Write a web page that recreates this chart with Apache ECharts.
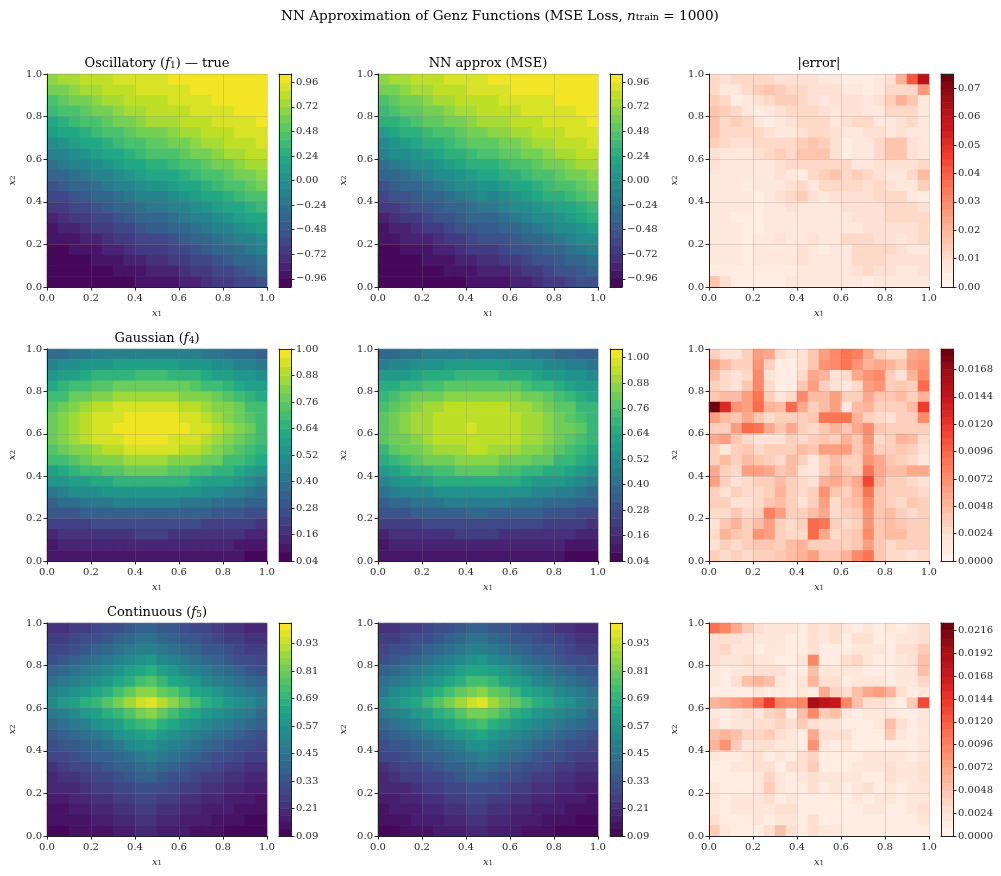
<!DOCTYPE html>
<html>
<head>
<meta charset="utf-8">
<title>Genz</title>
<script src="https://cdn.jsdelivr.net/npm/echarts@6/dist/echarts.min.js"></script>
<style>html,body{margin:0;background:#fff}#main{width:1001px;height:876px}</style>
</head>
<body>
<div id="main"></div>
<script>
var oscTrue=[
[.68,.73,.77,.81,.84,.87,.89,.91,.93,.95,.95,.97,.98,.99,1,1,1,.99,.98,.96],
[.58,.63,.68,.73,.77,.81,.84,.87,.89,.91,.91,.93,.95,.97,.98,.99,1,1,1,.99],
[.47,.53,.58,.63,.68,.73,.77,.81,.84,.87,.87,.89,.91,.93,.95,.97,.98,.99,1,1],
[.35,.42,.47,.53,.58,.63,.68,.73,.77,.81,.81,.84,.87,.89,.91,.93,.95,.97,.98,.99],
[.23,.29,.35,.42,.47,.53,.58,.63,.68,.73,.73,.77,.81,.84,.87,.89,.91,.93,.95,.97],
[.10,.17,.23,.29,.35,.42,.47,.53,.58,.63,.63,.68,.73,.77,.81,.84,.87,.89,.91,.93],
[-.03,.04,.10,.17,.23,.29,.35,.42,.47,.53,.53,.58,.63,.68,.73,.77,.81,.84,.87,.89],
[-.15,-.09,-.03,.04,.10,.17,.23,.29,.35,.42,.42,.47,.53,.58,.63,.68,.73,.77,.81,.84],
[-.28,-.22,-.15,-.09,-.03,.04,.10,.17,.23,.29,.29,.35,.42,.47,.53,.58,.63,.68,.73,.77],
[-.40,-.34,-.28,-.22,-.15,-.09,-.03,.04,.10,.17,.17,.23,.29,.35,.42,.47,.53,.58,.63,.68],
[-.51,-.45,-.40,-.34,-.28,-.22,-.15,-.09,-.03,.04,.04,.10,.17,.23,.29,.35,.42,.47,.53,.58],
[-.62,-.57,-.51,-.45,-.40,-.34,-.28,-.22,-.15,-.09,-.09,-.03,.04,.10,.17,.23,.29,.35,.42,.47],
[-.72,-.67,-.62,-.57,-.51,-.45,-.40,-.34,-.28,-.22,-.22,-.15,-.09,-.03,.04,.10,.17,.23,.29,.35],
[-.81,-.77,-.72,-.67,-.62,-.57,-.51,-.45,-.40,-.34,-.34,-.28,-.22,-.15,-.09,-.03,.04,.10,.17,.23],
[-.89,-.85,-.81,-.77,-.72,-.67,-.62,-.57,-.51,-.45,-.45,-.40,-.34,-.28,-.22,-.15,-.09,-.03,.04,.10],
[-.95,-.91,-.89,-.85,-.81,-.77,-.72,-.67,-.62,-.57,-.57,-.51,-.45,-.40,-.34,-.28,-.22,-.15,-.09,-.03],
[-.98,-.97,-.95,-.91,-.89,-.85,-.81,-.77,-.72,-.67,-.67,-.62,-.57,-.51,-.45,-.40,-.34,-.28,-.22,-.15],
[-1,-.99,-.98,-.97,-.95,-.91,-.89,-.85,-.81,-.77,-.77,-.72,-.67,-.62,-.57,-.51,-.45,-.40,-.34,-.28],
[-1,-1,-1,-.99,-.98,-.97,-.95,-.91,-.89,-.85,-.85,-.81,-.77,-.72,-.67,-.62,-.57,-.51,-.45,-.40],
[-.98,-.99,-1,-1,-1,-.99,-.98,-.97,-.95,-.91,-.91,-.89,-.85,-.81,-.77,-.72,-.67,-.62,-.57,-.51]];
var oscNN=[
[.66,.72,.76,.81,.84,.87,.90,.92,.94,.95,.96,.97,.98,.99,1,1,1,1,.99,.98],
[.57,.63,.68,.73,.77,.81,.85,.87,.89,.92,.92,.94,.96,.97,.98,.99,1,1,.99,.98],
[.47,.53,.58,.63,.68,.73,.77,.81,.84,.87,.87,.89,.91,.93,.95,.95,.96,.98,.99,1],
[.36,.42,.48,.53,.58,.63,.68,.73,.77,.81,.82,.84,.87,.89,.91,.92,.93,.95,.97,.98],
[.24,.29,.36,.42,.48,.53,.58,.63,.68,.73,.73,.77,.81,.84,.87,.89,.91,.93,.95,.97],
[.11,.17,.24,.30,.36,.42,.47,.53,.58,.63,.64,.68,.73,.77,.81,.84,.87,.89,.91,.93],
[-.02,.04,.11,.17,.24,.30,.36,.42,.48,.53,.53,.58,.63,.68,.73,.77,.81,.84,.87,.88],
[-.14,-.08,-.02,.04,.11,.17,.24,.30,.36,.42,.42,.48,.53,.58,.63,.68,.73,.77,.81,.84],
[-.26,-.21,-.14,-.08,-.02,.05,.11,.17,.24,.29,.30,.36,.42,.47,.53,.58,.63,.68,.73,.76],
[-.39,-.33,-.27,-.21,-.14,-.08,-.02,.05,.11,.17,.17,.24,.30,.35,.42,.47,.53,.58,.63,.68],
[-.50,-.44,-.39,-.33,-.27,-.21,-.14,-.08,-.02,.05,.04,.11,.17,.23,.30,.35,.42,.47,.53,.58],
[-.61,-.56,-.50,-.44,-.39,-.33,-.27,-.21,-.14,-.08,-.09,-.02,.05,.11,.17,.24,.29,.36,.42,.48],
[-.71,-.66,-.61,-.56,-.50,-.44,-.39,-.33,-.27,-.21,-.21,-.14,-.08,-.02,.04,.11,.17,.23,.30,.36],
[-.81,-.76,-.71,-.67,-.61,-.56,-.50,-.44,-.39,-.33,-.33,-.27,-.21,-.14,-.08,-.02,.05,.11,.18,.24],
[-.89,-.85,-.81,-.76,-.71,-.67,-.61,-.56,-.50,-.44,-.44,-.39,-.33,-.27,-.21,-.14,-.08,-.02,.05,.11],
[-.95,-.92,-.88,-.85,-.81,-.76,-.71,-.66,-.61,-.56,-.56,-.50,-.44,-.39,-.33,-.27,-.21,-.14,-.08,-.02],
[-.98,-.97,-.95,-.91,-.89,-.85,-.81,-.76,-.71,-.66,-.66,-.61,-.56,-.50,-.44,-.39,-.33,-.27,-.21,-.14],
[-1,-.99,-.98,-.97,-.95,-.91,-.89,-.85,-.81,-.76,-.76,-.71,-.67,-.61,-.56,-.50,-.44,-.39,-.33,-.27],
[-1,-1,-1,-.99,-.98,-.97,-.95,-.92,-.89,-.85,-.84,-.81,-.76,-.71,-.66,-.61,-.56,-.50,-.44,-.39],
[-.99,-1,-1,-1,-1,-.99,-.98,-.97,-.95,-.92,-.91,-.89,-.84,-.81,-.76,-.71,-.66,-.61,-.56,-.50]];
var oscErr=[ // x 1e-3
[10,8,10,11,12,11,9,8,9,8,7,5,4,4,4,5,8,20,40,62],
[11,5,6,10,13,15,14,12,10,9,9,9,7,5,4,5,10,12,11,26],
[13,10,4,5,9,12,14,14,11,8,7,8,9,8,6,8,14,20,15,6],
[15,13,11,6,3,6,9,11,12,11,8,7,8,8,7,6,10,12,10,5],
[15,12,14,10,6,3,5,8,11,12,11,7,8,10,10,6,5,8,11,7],
[15,12,12,11,11,9,5,5,9,11,12,9,5,6,8,8,7,9,7,5],
[14,11,9,8,10,11,12,10,14,16,13,9,4,5,7,11,17,16,9,5],
[8,7,7,6,8,11,13,12,15,17,15,9,4,6,7,10,17,15,8,7],
[8,7,6,6,6,6,8,10,10,12,12,12,10,7,5,9,9,9,9,12],
[7,6,6,5,5,7,8,5,3,11,14,15,12,14,10,8,6,7,11,18],
[7,7,6,4,5,5,5,9,12,5,10,12,12,12,9,10,9,6,5,14],
[6,6,6,6,4,5,8,12,13,8,7,9,9,8,8,10,12,10,7,4],
[6,6,5,5,4,5,7,9,7,6,6,7,8,8,8,9,11,12,10,9],
[5,5,4,4,4,6,6,5,6,7,6,6,7,8,9,9,10,10,10,12],
[7,6,5,4,4,7,7,6,6,7,6,6,7,7,8,8,8,8,9,12],
[6,7,6,4,5,6,8,7,5,9,5,6,10,11,10,9,8,7,8,10],
[6,7,5,4,5,5,6,7,8,5,3,5,7,10,11,11,10,8,7,7],
[5,6,5,4,5,6,6,6,9,6,5,6,7,10,12,11,9,9,8,9],
[4,4,4,4,4,3,3,4,5,6,6,6,7,9,10,9,8,7,7,9],
[17,9,3,3,3,3,4,6,6,6,6,5,5,5,4,5,5,6,5,5]];
var gaussTrue=[
[.37,.39,.41,.42,.44,.45,.46,.46,.47,.47,.46,.46,.45,.44,.43,.41,.39,.38,.36,.33],
[.45,.48,.50,.52,.53,.55,.56,.57,.57,.57,.57,.56,.55,.54,.52,.51,.48,.46,.44,.41],
[.54,.56,.59,.61,.64,.65,.67,.67,.68,.68,.68,.67,.66,.64,.62,.60,.58,.55,.52,.49],
[.62,.65,.68,.71,.73,.75,.77,.78,.78,.78,.78,.77,.76,.74,.72,.69,.66,.63,.60,.56],
[.69,.72,.76,.79,.82,.84,.85,.87,.87,.87,.87,.86,.84,.83,.80,.77,.74,.70,.67,.63],
[.74,.78,.82,.85,.88,.90,.92,.94,.94,.94,.94,.93,.91,.89,.86,.83,.80,.76,.72,.68],
[.78,.82,.86,.89,.92,.95,.96,.98,.98,.99,.98,.97,.95,.93,.90,.87,.83,.79,.75,.71],
[.79,.83,.87,.90,.93,.96,.98,.99,1,1,.99,.98,.97,.94,.92,.88,.85,.81,.76,.72],
[.77,.81,.85,.89,.92,.94,.96,.97,.98,.98,.98,.96,.95,.93,.90,.87,.83,.79,.75,.70],
[.73,.77,.81,.84,.87,.89,.91,.92,.93,.93,.93,.92,.90,.88,.85,.82,.79,.75,.71,.67],
[.68,.71,.74,.77,.80,.82,.84,.85,.86,.86,.85,.84,.83,.81,.79,.76,.72,.69,.65,.61],
[.60,.63,.66,.69,.71,.73,.75,.76,.76,.76,.76,.75,.74,.72,.70,.67,.65,.62,.58,.55],
[.52,.55,.57,.60,.62,.63,.64,.65,.66,.66,.66,.65,.64,.62,.60,.58,.56,.53,.50,.47],
[.43,.46,.48,.50,.51,.53,.54,.55,.55,.55,.55,.54,.53,.52,.51,.49,.47,.45,.42,.39],
[.35,.37,.39,.40,.41,.43,.44,.44,.45,.45,.44,.44,.43,.42,.41,.39,.38,.36,.34,.32],
[.28,.29,.30,.32,.33,.34,.34,.35,.35,.35,.35,.34,.34,.33,.32,.31,.30,.28,.27,.25],
[.21,.22,.23,.24,.25,.26,.26,.26,.27,.27,.26,.26,.26,.25,.24,.23,.23,.22,.20,.19],
[.15,.16,.17,.18,.18,.19,.19,.19,.20,.20,.20,.19,.19,.18,.18,.17,.17,.16,.15,.14],
[.11,.12,.12,.13,.13,.13,.14,.14,.14,.14,.14,.14,.13,.13,.13,.12,.12,.11,.11,.10],
[.08,.08,.08,.09,.09,.09,.09,.10,.10,.10,.10,.09,.09,.09,.09,.08,.08,.08,.07,.07]];
var gaussNN=[
[.36,.39,.41,.43,.45,.46,.46,.47,.47,.47,.46,.46,.45,.44,.43,.41,.39,.38,.35,.33],
[.46,.48,.51,.53,.54,.55,.56,.57,.57,.57,.57,.56,.55,.54,.52,.50,.48,.46,.44,.41],
[.56,.58,.60,.62,.64,.65,.67,.68,.68,.68,.68,.67,.66,.64,.62,.60,.58,.55,.52,.49],
[.64,.67,.69,.71,.73,.75,.77,.78,.79,.78,.78,.77,.76,.74,.72,.70,.66,.63,.60,.57],
[.71,.74,.77,.80,.83,.84,.86,.87,.87,.87,.87,.86,.85,.83,.81,.77,.74,.70,.67,.63],
[.75,.79,.82,.86,.88,.90,.92,.93,.93,.93,.93,.92,.91,.89,.86,.83,.79,.76,.72,.68],
[.78,.82,.85,.88,.91,.93,.94,.94,.95,.95,.94,.94,.93,.91,.89,.86,.83,.79,.75,.71],
[.78,.82,.85,.88,.91,.93,.94,.95,.97,.96,.95,.94,.93,.91,.90,.87,.84,.80,.76,.71],
[.76,.80,.84,.87,.90,.92,.93,.94,.94,.94,.94,.93,.92,.91,.88,.86,.82,.79,.75,.70],
[.72,.76,.80,.83,.86,.88,.90,.91,.92,.92,.91,.90,.89,.87,.85,.82,.79,.75,.71,.67],
[.67,.70,.73,.77,.80,.82,.84,.85,.85,.85,.85,.84,.83,.81,.79,.76,.72,.69,.65,.61],
[.59,.62,.66,.69,.71,.73,.75,.76,.77,.76,.76,.75,.74,.72,.70,.67,.65,.62,.58,.55],
[.51,.55,.57,.60,.62,.64,.65,.65,.66,.66,.66,.65,.64,.62,.60,.58,.56,.53,.50,.47],
[.43,.46,.48,.50,.51,.53,.54,.55,.55,.55,.55,.54,.53,.52,.51,.49,.47,.45,.42,.39],
[.35,.37,.39,.41,.42,.43,.44,.45,.45,.45,.44,.44,.43,.42,.41,.39,.38,.36,.34,.32],
[.28,.29,.31,.32,.33,.34,.35,.35,.36,.36,.35,.34,.34,.33,.32,.31,.30,.28,.27,.25],
[.21,.22,.23,.24,.25,.26,.26,.27,.27,.27,.26,.26,.26,.25,.25,.23,.23,.22,.20,.19],
[.15,.16,.17,.18,.18,.19,.19,.20,.20,.20,.20,.19,.19,.18,.18,.17,.17,.16,.15,.14],
[.11,.12,.12,.13,.13,.13,.14,.14,.14,.14,.14,.14,.13,.13,.13,.12,.12,.11,.11,.10],
[.08,.08,.09,.09,.09,.09,.10,.10,.10,.10,.10,.09,.09,.09,.09,.08,.08,.07,.07,.07]];
var gaussErr=[ // x 1e-4
[30,18,22,35,60,55,25,15,22,40,60,75,85,80,55,30,25,25,55,60],
[60,45,30,30,70,35,10,8,20,40,70,75,85,70,50,55,50,40,60,70],
[45,25,18,28,75,20,6,8,25,55,50,20,25,55,70,75,35,20,50,75],
[35,28,20,40,75,25,6,10,40,60,30,20,12,25,60,70,30,40,35,90],
[40,45,45,60,85,30,12,25,75,45,45,65,30,30,55,40,40,45,30,50],
[180,130,70,65,90,50,45,90,55,35,45,60,15,45,50,30,35,30,45,115],
[65,45,40,55,40,25,30,35,30,40,85,85,85,50,35,25,20,30,30,75],
[30,35,65,90,85,55,40,55,30,25,40,50,40,55,75,40,30,35,30,30],
[55,60,40,25,20,20,20,35,25,30,40,35,50,40,70,25,30,50,45,25],
[30,15,30,40,25,35,35,35,45,40,65,60,60,40,65,30,30,40,30,20],
[30,45,35,45,40,30,25,45,30,15,35,45,35,30,70,55,40,30,25,15],
[55,30,25,60,65,55,40,45,20,12,35,50,40,35,85,55,45,45,55,55],
[65,30,20,25,30,35,45,35,25,20,50,55,45,55,110,50,35,30,25,20],
[30,20,30,25,25,30,50,35,25,30,70,40,35,50,85,40,35,30,30,25],
[35,30,20,20,25,40,45,30,20,30,65,25,40,45,75,40,35,25,40,35],
[25,25,40,25,35,80,60,35,30,45,55,25,35,40,70,40,45,35,25,30],
[18,40,50,30,45,60,30,25,35,90,85,30,25,35,70,40,45,40,30,30],
[25,50,40,30,70,65,30,25,28,95,55,25,30,40,75,40,45,45,30,30],
[18,30,25,35,40,40,35,45,50,35,30,30,35,40,65,40,25,35,30,35],
[35,25,35,25,30,35,40,45,50,60,40,40,50,75,85,40,25,25,20,25]];
var contTrue=[
[.21,.22,.24,.26,.28,.30,.32,.34,.37,.38,.35,.33,.31,.28,.27,.25,.23,.21,.20,.19],
[.24,.26,.28,.30,.32,.34,.37,.39,.42,.43,.40,.38,.35,.33,.30,.28,.26,.25,.23,.21],
[.27,.29,.32,.34,.37,.39,.42,.45,.48,.50,.46,.43,.40,.38,.35,.33,.30,.28,.26,.24],
[.32,.34,.36,.39,.42,.45,.48,.52,.56,.57,.53,.50,.46,.43,.40,.37,.35,.32,.30,.28],
[.36,.39,.42,.45,.48,.52,.56,.60,.64,.66,.61,.57,.53,.50,.46,.43,.40,.37,.35,.32],
[.42,.45,.48,.52,.55,.59,.64,.68,.73,.75,.70,.65,.61,.57,.53,.49,.46,.43,.40,.37],
[.48,.51,.55,.59,.64,.68,.73,.79,.84,.86,.80,.75,.70,.65,.61,.57,.53,.49,.46,.42],
[.53,.57,.61,.66,.71,.76,.81,.88,.94,.97,.90,.84,.78,.73,.68,.63,.59,.55,.51,.47],
[.46,.50,.53,.57,.62,.66,.71,.76,.82,.84,.78,.73,.68,.64,.59,.55,.52,.48,.45,.41],
[.40,.43,.46,.50,.54,.58,.62,.66,.71,.73,.68,.64,.59,.55,.52,.48,.45,.42,.39,.36],
[.35,.38,.40,.44,.47,.50,.54,.58,.62,.64,.59,.55,.52,.48,.45,.42,.39,.37,.34,.31],
[.31,.33,.35,.38,.41,.44,.47,.51,.54,.56,.52,.48,.45,.42,.39,.36,.34,.32,.30,.27],
[.27,.29,.31,.33,.36,.38,.41,.44,.47,.49,.45,.42,.39,.37,.34,.32,.30,.28,.26,.24],
[.23,.25,.27,.29,.31,.33,.36,.38,.41,.42,.39,.37,.34,.32,.30,.28,.26,.24,.22,.21],
[.20,.22,.23,.25,.27,.29,.31,.33,.36,.37,.34,.32,.30,.28,.26,.24,.22,.21,.20,.18],
[.18,.19,.20,.22,.24,.25,.27,.29,.31,.32,.30,.28,.26,.24,.23,.21,.20,.18,.17,.16],
[.15,.17,.18,.19,.21,.22,.24,.25,.27,.28,.26,.24,.23,.21,.20,.18,.17,.16,.15,.14],
[.13,.14,.15,.17,.18,.19,.21,.22,.24,.24,.23,.21,.20,.18,.17,.16,.15,.14,.13,.12],
[.12,.13,.13,.14,.16,.17,.18,.19,.21,.21,.20,.18,.17,.16,.15,.14,.13,.12,.11,.10],
[.10,.11,.12,.13,.14,.14,.16,.17,.18,.18,.17,.16,.15,.14,.13,.12,.11,.11,.10,.09]];
var contNN=[
[.21,.23,.24,.26,.28,.30,.32,.34,.36,.37,.35,.33,.31,.29,.27,.25,.23,.22,.20,.19],
[.24,.26,.28,.30,.32,.34,.37,.39,.42,.42,.40,.38,.35,.33,.31,.28,.27,.25,.23,.21],
[.28,.30,.32,.35,.37,.39,.42,.45,.48,.49,.46,.43,.40,.38,.35,.33,.30,.28,.26,.24],
[.32,.34,.37,.39,.42,.45,.48,.51,.55,.57,.53,.50,.46,.43,.40,.37,.35,.32,.30,.28],
[.36,.39,.42,.45,.48,.52,.56,.60,.64,.65,.61,.57,.54,.50,.46,.43,.40,.37,.35,.33],
[.42,.45,.48,.52,.56,.59,.64,.68,.72,.74,.70,.65,.61,.57,.53,.49,.46,.43,.40,.37],
[.47,.51,.55,.59,.64,.68,.73,.78,.83,.85,.80,.75,.70,.65,.61,.57,.53,.49,.46,.43],
[.51,.56,.60,.65,.70,.75,.81,.87,.93,.96,.89,.83,.78,.72,.68,.63,.59,.55,.50,.45],
[.46,.49,.53,.57,.61,.66,.71,.75,.81,.83,.78,.73,.68,.63,.59,.55,.52,.48,.45,.41],
[.40,.43,.46,.50,.54,.58,.62,.66,.70,.72,.68,.63,.59,.55,.52,.48,.45,.42,.39,.36],
[.35,.37,.40,.44,.47,.50,.54,.58,.61,.63,.59,.55,.51,.48,.45,.42,.39,.37,.34,.32],
[.31,.33,.35,.38,.41,.44,.47,.50,.54,.55,.52,.48,.45,.42,.39,.36,.34,.32,.30,.28],
[.27,.29,.31,.33,.36,.38,.41,.44,.47,.48,.45,.42,.39,.37,.34,.32,.30,.28,.26,.25],
[.23,.25,.27,.29,.31,.33,.36,.38,.41,.42,.39,.37,.34,.32,.30,.28,.26,.24,.23,.21],
[.20,.22,.24,.25,.27,.29,.31,.33,.36,.36,.34,.32,.30,.28,.26,.24,.22,.21,.20,.18],
[.18,.19,.20,.22,.24,.25,.27,.29,.31,.32,.30,.28,.26,.24,.23,.21,.20,.18,.17,.16],
[.16,.17,.18,.19,.21,.22,.24,.25,.27,.28,.26,.24,.23,.21,.20,.18,.17,.16,.15,.14],
[.14,.15,.16,.17,.18,.19,.21,.22,.24,.24,.23,.21,.20,.18,.17,.16,.15,.14,.13,.12],
[.12,.13,.14,.15,.16,.17,.18,.19,.21,.21,.20,.18,.17,.16,.15,.14,.13,.12,.11,.10],
[.10,.11,.12,.13,.14,.15,.16,.17,.18,.18,.17,.16,.15,.14,.13,.12,.11,.11,.10,.09]];
var contErr=[ // x 1e-4
[110,95,65,45,30,22,22,18,12,30,18,25,18,14,18,15,18,15,20,25],
[25,30,25,18,20,20,18,15,10,25,18,24,15,25,30,15,12,22,20,30],
[30,35,20,18,14,18,18,10,14,30,15,14,14,18,22,16,12,25,28,40],
[25,20,18,25,22,18,15,15,18,90,15,15,25,35,18,15,14,18,25,55],
[20,14,18,18,25,30,30,15,14,55,18,18,20,18,14,14,14,16,20,50],
[18,14,30,55,60,50,22,14,16,60,25,25,15,16,16,16,12,16,20,35],
[14,14,12,14,16,14,14,10,20,14,70,35,30,50,65,75,60,25,14,18],
[60,70,75,85,110,140,95,85,90,195,180,170,90,55,30,30,20,15,40,130],
[18,14,20,25,16,35,45,14,55,90,40,55,18,14,18,18,18,14,14,20],
[25,14,18,22,30,30,35,25,45,25,18,16,14,12,12,16,50,30,14,18],
[50,60,50,35,35,40,30,18,14,65,25,25,30,15,14,14,45,20,14,18],
[60,80,45,20,30,30,18,22,14,85,18,14,16,14,14,14,14,14,12,18],
[16,14,14,16,25,14,18,14,25,35,14,14,14,14,20,16,16,18,14,20],
[14,14,18,20,30,25,14,30,30,40,14,14,14,18,18,16,24,22,18,25],
[14,14,14,14,22,35,18,14,20,30,16,18,22,20,14,14,24,22,18,25],
[22,14,14,14,22,40,20,14,14,30,14,16,14,20,25,14,22,14,18,22],
[22,14,18,18,20,25,15,20,14,14,14,14,14,18,14,18,18,14,18,18],
[18,14,18,22,22,22,25,25,14,14,14,14,14,14,16,18,14,14,18,30],
[30,14,14,14,16,14,22,16,14,25,14,14,14,14,14,14,14,14,14,20],
[40,16,10,10,10,30,55,30,12,28,18,18,14,14,12,12,12,12,14,14]];

var oscTicks=[-.96,-.72,-.48,-.24,0,.24,.48,.72,.96];
var gaussTicks=[.04,.16,.28,.40,.52,.64,.76,.88,1];
var contTicks=[.09,.21,.33,.45,.57,.69,.81,.93];
var oscErrTicks=[0,.01,.02,.03,.04,.05,.06,.07];
var gaussErrTicks=[0,.0024,.0048,.0072,.0096,.012,.0144,.0168];
var contErrTicks=[0,.0024,.0048,.0072,.0096,.012,.0144,.0168,.0192,.0216];

var viridis=['#440154','#482475','#414487','#355f8d','#2a788e','#21918c','#22a884','#44bf70','#7ad151','#bddf26','#fde725'];
var reds=['#fff5f0','#fee0d2','#fcbba1','#fc9272','#fb6a4a','#ef3b2c','#cb181d','#a50f15','#67000d'];

var FONT='DejaVu Serif';
var panels=[
 {grid:oscTrue,scale:1,cmap:viridis,lev:[-1.04,.08,26],ticks:oscTicks,dec:2,title:'Oscillatory ({m|f}{s|1}) — true'},
 {grid:oscNN,scale:1,cmap:viridis,lev:[-1.04,.08,26],ticks:oscTicks,dec:2,title:'NN approx (MSE)'},
 {grid:oscErr,scale:1e-3,cmap:reds,lev:[0,.0025,30],ticks:oscErrTicks,dec:2,title:'|error|'},
 {grid:gaussTrue,scale:1,cmap:viridis,lev:[.04,.04,24],ticks:gaussTicks,dec:2,title:'Gaussian ({m|f}{s|4})'},
 {grid:gaussNN,scale:1,cmap:viridis,lev:[.04,.04,25],ticks:gaussTicks,dec:2,title:''},
 {grid:gaussErr,scale:1e-4,cmap:reds,lev:[0,.0006,31],ticks:gaussErrTicks,dec:4,title:''},
 {grid:contTrue,scale:1,cmap:viridis,lev:[.09,.03,31],ticks:contTicks,dec:2,title:'Continuous ({m|f}{s|5})'},
 {grid:contNN,scale:1,cmap:viridis,lev:[.09,.03,31],ticks:contTicks,dec:2,title:''},
 {grid:contErr,scale:1e-4,cmap:reds,lev:[0,.0008,28],ticks:contErrTicks,dec:4,title:''}
];
var colLeft=[47,378,709], rowTop=[74,349,623], W=220, H=[213,212,213];
var CB_GAP=12, CB_W=12;

var rich={
 m:{fontFamily:FONT,fontStyle:'italic',fontSize:13,color:'#000'},
 s:{fontFamily:FONT,fontSize:9,color:'#000',verticalAlign:'bottom',padding:[4,0,0,0]}
};
var axisRich={
 m:{fontFamily:FONT,fontStyle:'italic',fontSize:10,color:'#262626'},
 s:{fontFamily:FONT,fontSize:7,color:'#262626',padding:[3,0,0,0]}
};
var option={animation:false,backgroundColor:'#fff',
 title:[{text:'NN Approximation of Genz Functions (MSE Loss, {m|n}{t|train} = 1000)',left:500,top:9,padding:0,textAlign:'center',
  textStyle:{fontFamily:FONT,fontWeight:'normal',fontSize:13.6,color:'#000',rich:{
   m:{fontFamily:FONT,fontStyle:'italic',fontSize:13.6,color:'#000'},
   t:{fontFamily:FONT,fontSize:9.5,color:'#000',padding:[4,0,0,0]}}}}],
 grid:[],xAxis:[],yAxis:[],series:[],visualMap:[]};

function catAxis(n,pos,gi,line){
 var d=[];for(var i=0;i<n;i++)d.push(i);
 return {type:'category',data:d,gridIndex:gi,position:pos,z:5,silent:true,
  axisLine:{show:line,onZero:false,lineStyle:{color:'#222',width:1}},axisTick:{show:false},axisLabel:{show:false},splitLine:{show:false}};
}
function labelStyle(){return {fontFamily:FONT,fontSize:10,color:'#262626'};}

panels.forEach(function(p,k){
 var c=k%3,r=Math.floor(k/3);
 var left=colLeft[c],top=rowTop[r],h=H[r];
 var g=option.grid.length;
 option.grid.push({left:left,top:top,width:W,height:h});
 option.grid.push({left:left+W+CB_GAP,top:top,width:CB_W,height:h});
 var n=p.grid.length;
 // main panel: hidden category axes carry the cells, value axes carry ticks and grid lines
 var xi=option.xAxis.length,yi=option.yAxis.length;
 option.xAxis.push(catAxis(n,'top',g,false));
 option.yAxis.push(catAxis(n,'right',g,false));
 option.xAxis.push({type:'value',gridIndex:g,position:'bottom',min:0,max:1,interval:.2,z:5,
  name:'{m|x}{s|1}',nameLocation:'middle',nameGap:21,nameTextStyle:{rich:axisRich},
  axisLine:{onZero:false,lineStyle:{color:'#222',width:1}},axisTick:{length:3.5,lineStyle:{color:'#222'}},
  axisLabel:Object.assign(labelStyle(),{margin:6,formatter:function(v){return v.toFixed(1);}}),
  splitLine:{show:true,lineStyle:{color:'rgba(128,128,128,0.25)',width:1}}});
 option.yAxis.push({type:'value',gridIndex:g,position:'left',min:0,max:1,interval:.2,z:5,
  name:'{m|x}{s|2}',nameLocation:'middle',nameGap:30,nameRotate:90,nameTextStyle:{rich:axisRich},
  axisLine:{onZero:false,lineStyle:{color:'#222',width:1}},axisTick:{length:3.5,lineStyle:{color:'#222'}},
  axisLabel:Object.assign(labelStyle(),{margin:5,formatter:function(v){return v.toFixed(1);}}),
  splitLine:{show:true,lineStyle:{color:'rgba(128,128,128,0.25)',width:1}}});
 var data=[];
 p.grid.forEach(function(row,ry){
  row.forEach(function(v,ix){data.push([ix,n-1-ry,v*p.scale]);});
 });
 var si=option.series.length;
 option.series.push({type:'heatmap',xAxisIndex:xi,yAxisIndex:yi,data:data,progressive:0,silent:true,emphasis:{disabled:true},itemStyle:{borderWidth:0}});
 // colorbar: one column of bands
 var mn=p.lev[0],st=p.lev[1],cnt=p.lev[2];
 var cx=option.xAxis.length,cy=option.yAxis.length;
 option.xAxis.push(catAxis(1,'bottom',g+1,true));
 option.yAxis.push(catAxis(cnt,'left',g+1,true));
 option.xAxis.push({type:'value',gridIndex:g+1,position:'top',min:0,max:1,z:5,
  axisLine:{show:true,onZero:false,lineStyle:{color:'#222',width:1}},axisTick:{show:false},axisLabel:{show:false},splitLine:{show:false}});
 option.yAxis.push({type:'value',gridIndex:g+1,position:'right',min:mn,max:mn+st*cnt,z:5,
  axisLine:{show:true,onZero:false,lineStyle:{color:'#222',width:1}},
  axisTick:{length:3.5,lineStyle:{color:'#222'},customValues:p.ticks},
  axisLabel:Object.assign(labelStyle(),{margin:5,customValues:p.ticks,showMinLabel:true,showMaxLabel:true,
   formatter:(function(dec){return function(v){return v.toFixed(dec).replace('-','−');};})(p.dec)}),
  splitLine:{show:false}});
 var cbData=[],pieces=[];
 for(var i=0;i<cnt;i++){
  var mid=mn+st*(i+.5);
  cbData.push([0,i,mid]);
  var col=echarts.color.lerp((i+.5)/cnt,p.cmap);
  var pc={color:col};
  if(i>0)pc.gte=mn+st*i;
  if(i<cnt-1)pc.lt=mn+st*(i+1);
  pieces.push(pc);
 }
 option.series.push({type:'heatmap',xAxisIndex:cx,yAxisIndex:cy,data:cbData,progressive:0,silent:true,emphasis:{disabled:true},itemStyle:{borderWidth:0}});
 option.visualMap.push({type:'piecewise',show:false,seriesIndex:[si,si+1],dimension:2,pieces:pieces});
 if(p.title){
  option.title.push({text:p.title,left:left+W/2,top:top-17,padding:0,textAlign:'center',
   textStyle:{fontFamily:FONT,fontWeight:'normal',fontSize:13,color:'#000',rich:rich}});
 }
});
var chart=echarts.init(document.getElementById('main'),null,{renderer:'canvas'});
chart.setOption(option);
</script>
</body>
</html>
